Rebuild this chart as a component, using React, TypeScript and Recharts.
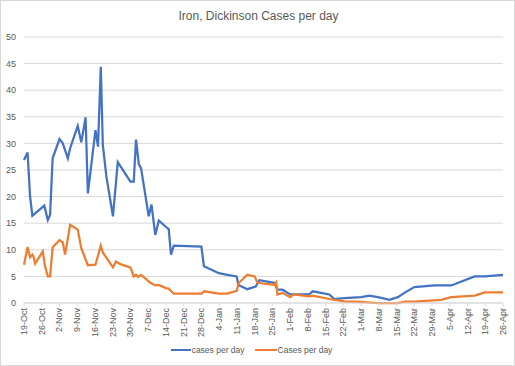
import React from 'react';
import { LineChart, Line, XAxis, YAxis, CartesianGrid, Legend } from 'recharts';

// x = days since 19-Oct
const blueDays = [0, 1.4, 2.4, 3.3, 8, 9.4, 10.3, 11.3, 14, 15.3, 17.3, 18.2, 21.2, 22.6, 24.3, 25.2, 28.2, 29.2, 30.3, 31.1, 32.5, 35.1, 37, 42, 43.3, 44.2, 45.3, 46.2, 49.2, 50.3, 51.8, 53.2, 56.5, 57.1, 58, 59.1, 70, 71, 76.9, 80.2, 83.9, 84.6, 88.1, 91.4, 92.9, 98.7, 100, 102, 105, 112.5, 113.9, 120.5, 122.4, 126.4, 133, 136.3, 139.6, 144.2, 147.5, 150.4, 154, 162, 168.6, 177.8, 181.8, 189];
const blueValues = [26.9, 28.3, 20, 16.4, 18.3, 15.6, 16.6, 27.2, 30.8, 30, 27.2, 29.1, 33.3, 30.2, 34.9, 20.6, 32.5, 29.4, 44.4, 29.7, 23.8, 16.3, 26.5, 22.8, 22.8, 30.7, 26.1, 25.3, 16.3, 18.5, 12.8, 15.5, 14.1, 13.9, 9.1, 10.8, 10.6, 6.9, 5.6, 5.3, 5.0, 3.4, 2.6, 3.1, 4.3, 3.8, 2.5, 2.5, 1.6, 1.6, 2.2, 1.6, 0.75, 0.9, 1.1, 1.4, 1.1, 0.6, 1.1, 2.0, 3.0, 3.3, 3.3, 5.0, 5.0, 5.3];

const orangeDays = [0, 1.4, 2.4, 3.3, 3.7, 4.4, 7.4, 8.3, 9.4, 10.3, 11.3, 14, 15.3, 16.2, 18.2, 21.2, 22.6, 25.2, 28.2, 30.3, 31.1, 35.1, 36.3, 38, 42, 43.3, 44.2, 45, 46.2, 49.9, 51.8, 53.2, 56, 57.1, 59.1, 70, 71.2, 76.9, 80.2, 83.9, 84.8, 88.1, 91, 92.1, 98.7, 99.5, 100, 102, 105, 106.3, 112.5, 113.9, 120.5, 126.4, 133, 139.6, 147.5, 150.4, 154, 164.6, 168.6, 177.8, 181.8, 189];
const orangeValues = [7.2, 10.5, 8.6, 9.1, 8.8, 7.4, 9.7, 6.9, 5, 5, 10.5, 11.8, 11.4, 9.1, 14.7, 13.8, 10.3, 7.1, 7.2, 10.8, 9.5, 6.7, 7.8, 7.3, 6.7, 5, 5.3, 4.9, 5.3, 3.8, 3.3, 3.4, 2.8, 2.7, 1.75, 1.75, 2.2, 1.75, 1.75, 2.3, 3.8, 5.3, 5.0, 3.8, 3.4, 3.9, 1.6, 1.9, 1.1, 1.6, 1.25, 1.4, 0.75, 0.3, 0.2, 0, 0, 0.25, 0.25, 0.6, 1.1, 1.4, 2.0, 2.0];

const tickDays = [0, 7, 14, 21, 28, 35, 42, 49, 56, 63, 70, 77, 84, 91, 98, 105, 112, 119, 126, 133, 140, 147, 154, 161, 168, 175, 182, 189];
const tickLabels = ['19-Oct', '26-Oct', '2-Nov', '9-Nov', '16-Nov', '23-Nov', '30-Nov', '7-Dec', '14-Dec', '21-Dec', '28-Dec', '4-Jan', '11-Jan', '18-Jan', '25-Jan', '1-Feb', '8-Feb', '15-Feb', '22-Feb', '1-Mar', '8-Mar', '15-Mar', '22-Mar', '29-Mar', '5-Apr', '12-Apr', '19-Apr', '26-Apr'];
const yTicks = [0, 5, 10, 15, 20, 25, 30, 35, 40, 45, 50];

const blueData = blueDays.map((d, i) => ({ day: d, value: blueValues[i] }));
const orangeData = orangeDays.map((d, i) => ({ day: d, value: orangeValues[i] }));

const BLUE = '#4472C4';
const ORANGE = '#ED7D31';
const TEXT = '#595959';
const FONT = '"Liberation Sans", Arial, sans-serif';

const DateTick = (props: any) => {
    const { x, y, payload } = props;
    const idx = tickDays.indexOf(payload.value);
    return (
        <g transform={`translate(${x},${y})`}>
            <text
                transform="rotate(-90)"
                textAnchor="end"
                dy={3}
                fontSize={9}
                fill={TEXT}
                fontFamily={FONT}>
                {tickLabels[idx]}
            </text>
        </g>
    );
};

const LegendContent = () => (
    <div
        style={{
            height: 20,
            display: 'flex',
            justifyContent: 'center',
            alignItems: 'center',
            fontFamily: FONT,
            fontSize: 8.5,
            color: TEXT,
        }}>
        <span style={{ display: 'inline-block', width: 20, height: 2, background: BLUE }} />
        <span style={{ marginLeft: 1, marginRight: 10 }}>cases per day</span>
        <span style={{ display: 'inline-block', width: 22, height: 2, background: ORANGE }} />
        <span style={{ marginLeft: 1 }}>Cases per day</span>
    </div>
);

const App: React.FC = () => {
    return (
        <div
            style={{
                position: 'absolute',
                left: 0,
                top: 0,
                width: 515,
                height: 366,
                background: '#fff',
                boxSizing: 'border-box',
                border: '1px solid #d9d9d9',
            }}>
            <div
                style={{
                    position: 'absolute',
                    top: 8,
                    left: 0,
                    width: 515,
                    textAlign: 'center',
                    fontFamily: FONT,
                    fontSize: 12,
                    color: TEXT,
                }}>
                Iron, Dickinson Cases per day
            </div>
            <div style={{ position: 'absolute', left: -1, top: -1 }}>
                <LineChart
                    width={515}
                    height={366}
                    margin={{ top: 37, right: 12, bottom: 6, left: 0 }}>
                    <CartesianGrid vertical={false} stroke="#d9d9d9" />
                    <XAxis
                        dataKey="day"
                        type="number"
                        domain={[0, 189]}
                        ticks={tickDays}
                        interval={0}
                        height={37}
                        tick={<DateTick />}
                        tickSize={3}
                        tickMargin={2}
                        stroke="#d9d9d9"
                        allowDuplicatedCategory={false}
                    />
                    <YAxis
                        type="number"
                        domain={[0, 50]}
                        ticks={yTicks}
                        width={24}
                        axisLine={false}
                        tickLine={false}
                        tick={{ fontSize: 9, fill: TEXT, fontFamily: FONT }}
                    />
                    <Legend verticalAlign="bottom" content={<LegendContent />} />
                    <Line
                        data={blueData}
                        dataKey="value"
                        name="cases per day"
                        stroke={BLUE}
                        strokeWidth={2.25}
                        dot={false}
                        type="linear"
                        isAnimationActive={false}
                    />
                    <Line
                        data={orangeData}
                        dataKey="value"
                        name="Cases per day"
                        stroke={ORANGE}
                        strokeWidth={2.25}
                        dot={false}
                        type="linear"
                        isAnimationActive={false}
                    />
                </LineChart>
            </div>
        </div>
    );
};

export default App;
